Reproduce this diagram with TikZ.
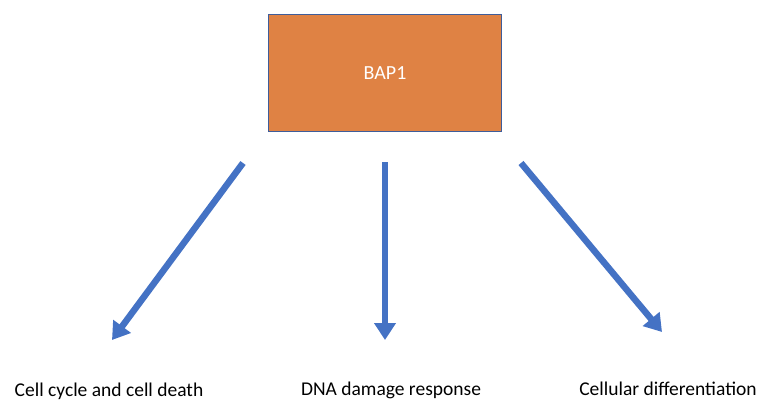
\documentclass[tikz,border=0pt]{standalone}
\usepackage{fontspec}
\setmainfont{Carlito}
\usetikzlibrary{arrows.meta}
\definecolor{boxorange}{HTML}{DF8244}
\definecolor{boxedge}{HTML}{3F5D9A}
\definecolor{arrowblue}{HTML}{4472C4}
\begin{document}
\begin{tikzpicture}[x=1pt,y=-1pt,
  mainbox/.style={draw=boxedge,line width=1.2pt,fill=boxorange,minimum width=233pt,minimum height=117pt,
    inner sep=0pt,text=white,font=\fontsize{20}{24}\selectfont},
  label/.style={inner sep=0pt,font=\fontsize{19.5}{22}\selectfont,anchor=base},
  bigarrow/.style={draw=arrowblue,line width=6.5pt,-{Triangle[width=21pt,length=17pt]}}]
  \useasboundingbox (0,0) rectangle (760,401);
  \node[mainbox] (bap) at (385,73) {BAP1};
  % arrow tails and tips
  \coordinate (l0) at (243,163);
  \coordinate (l1) at (112,340);
  \coordinate (m0) at (385,162);
  \coordinate (m1) at (385,340);
  \coordinate (r0) at (521,163);
  \coordinate (r1) at (662,332);
  \draw[bigarrow] (l0) -- (l1);
  \draw[bigarrow] (m0) -- (m1);
  \draw[bigarrow] (r0) -- (r1);
  \node[label] (cyc) at (109,396.5) {Cell cycle and cell death};
  \node[label] (dna) at (391,395.5) {DNA damage response};
  \node[label] (dif) at (668,395.5) {Cellular differentiation};
\end{tikzpicture}
\end{document}
